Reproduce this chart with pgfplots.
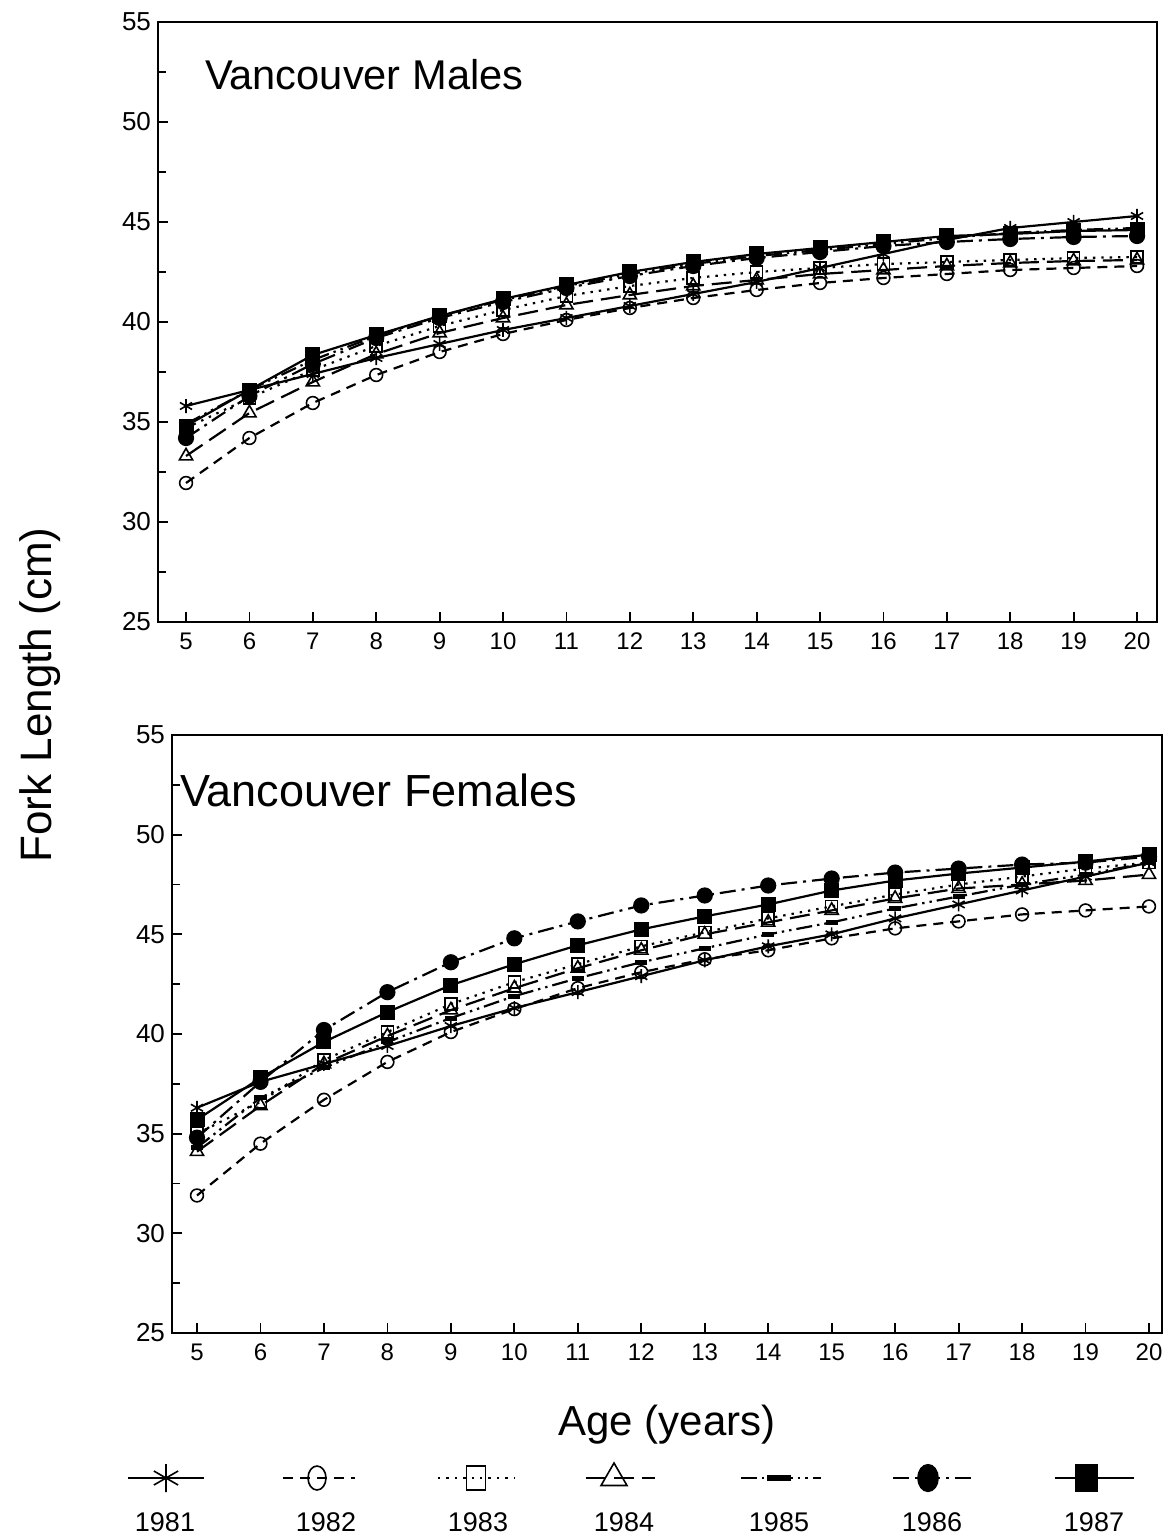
\documentclass[border=0pt]{standalone}
\usepackage{fontspec}
\setmainfont{Liberation Sans}
\usepackage{pgfplots}
\usepackage{pgfplotstable}
\pgfplotsset{compat=1.18}

\pgfplotstableread{
age a81 a82 a83 a84 a85 a86 a87
5  35.8 31.95 34.7 33.3 34.9 34.2 34.8
6  36.6 34.2 36.2 35.45 36.6 36.3 36.6
7  37.4 35.95 37.6 37.0 38.1 37.9 38.35
8  38.2 37.35 38.8 38.4 39.3 39.2 39.35
9  38.9 38.5 39.8 39.45 40.3 40.2 40.3
10 39.6 39.4 40.6 40.2 41.1 41.0 41.15
11 40.2 40.1 41.3 40.85 41.8 41.7 41.85
12 40.8 40.7 41.8 41.35 42.4 42.3 42.5
13 41.4 41.2 42.2 41.8 42.9 42.8 43.0
14 42.0 41.6 42.5 42.1 43.3 43.2 43.4
15 42.7 41.95 42.7 42.4 43.6 43.5 43.7
16 43.4 42.2 42.9 42.6 43.9 43.8 44.0
17 44.1 42.4 43.0 42.8 44.2 44.0 44.3
18 44.7 42.6 43.1 42.95 44.45 44.15 44.4
19 45.0 42.7 43.2 43.05 44.6 44.25 44.55
20 45.3 42.8 43.25 43.1 44.7 44.3 44.6
}\males

\pgfplotstableread{
age a81 a82 a83 a84 a85 a86 a87
5  36.3 31.9 35.0 34.1 34.3 34.8 35.7
6  37.6 34.5 36.6 36.4 36.8 37.6 37.8
7  38.5 36.7 38.7 38.5 38.3 40.2 39.6
8  39.4 38.6 40.1 39.9 39.6 42.1 41.1
9  40.4 40.1 41.5 41.2 40.8 43.6 42.45
10 41.3 41.25 42.6 42.3 41.9 44.8 43.5
11 42.1 42.3 43.5 43.3 42.8 45.65 44.45
12 42.9 43.1 44.4 44.2 43.6 46.45 45.25
13 43.7 43.75 45.1 45.0 44.3 46.95 45.9
14 44.4 44.2 45.8 45.6 45.0 47.45 46.5
15 45.0 44.8 46.4 46.2 45.6 47.8 47.2
16 45.8 45.3 47.0 46.8 46.3 48.1 47.7
17 46.5 45.65 47.5 47.3 46.9 48.3 48.05
18 47.2 46.0 47.9 47.5 47.5 48.5 48.35
19 47.9 46.2 48.3 47.7 48.0 48.6 48.65
20 48.6 46.4 48.6 48.0 48.6 48.9 49.0
}\females

\tikzset{legtext/.style={font=\fontsize{13.5}{15}\selectfont}}

\pgfplotsset{
  s81/.style={black, line width=1.1pt, solid, mark=asterisk, mark size=3.5pt, mark options={solid, line width=0.8pt}},
  s82/.style={black, line width=1.1pt, dash pattern=on 5pt off 3.5pt, mark=o, mark size=3.2pt, mark options={solid, line width=0.8pt, fill=white}},
  s83/.style={black, line width=1.1pt, dash pattern=on 1.2pt off 3pt, mark=square, mark size=3pt, mark options={solid, line width=0.8pt, fill=white}},
  s84/.style={black, line width=1.1pt, dash pattern=on 10pt off 4pt, mark=triangle, mark size=3.8pt, mark options={solid, line width=0.8pt, fill=white}},
  s85/.style={black, line width=1.1pt, dash pattern=on 8pt off 2.5pt on 1.2pt off 2.5pt on 1.2pt off 2.5pt, mark=-, mark size=3pt, mark options={solid, line width=2.5pt}},
  s86/.style={black, line width=1.1pt, dash pattern=on 8pt off 3pt on 1.5pt off 3pt, mark=*, mark size=3.5pt, mark options={solid}},
  s87/.style={black, line width=1.1pt, solid, mark=square*, mark size=3.2pt, mark options={solid}},
  panel/.style={
    scale only axis, anchor=south west,
    ymin=25, ymax=55, ytick={25,30,...,55}, minor y tick num=1,
    xtick={5,6,...,20},
    tick align=inside, xtick pos=bottom, ytick pos=left,
    major tick length=5pt, minor tick length=4pt,
    axis line style={line width=1.2pt},
    tick style={line width=0.9pt, black},
    yticklabel style={font=\fontsize{13}{15}\selectfont},
    xticklabel style={font=\fontsize{12}{14}\selectfont, yshift=-2pt},
    /pgf/number format/assume math mode=true,
    clip=false,
  },
}

\begin{document}
\begin{tikzpicture}
\useasboundingbox (0,0) rectangle (587.5pt,-770pt);

% Top panel: Males
\begin{axis}[panel, at={(79pt,-311pt)}, width=499.5pt, height=300pt,
  xmin=4.558, xmax=20.315]
\addplot[s81] table[x=age,y=a81] {\males};
\addplot[s82] table[x=age,y=a82] {\males};
\addplot[s83] table[x=age,y=a83] {\males};
\addplot[s84] table[x=age,y=a84] {\males};
\addplot[s85] table[x=age,y=a85] {\males};
\addplot[s86] table[x=age,y=a86] {\males};
\addplot[s87] table[x=age,y=a87] {\males};
\end{axis}

% Bottom panel: Females
\begin{axis}[panel, at={(86pt,-666.5pt)}, width=495pt, height=299pt,
  xmin=4.606, xmax=20.205]
\addplot[s81] table[x=age,y=a81] {\females};
\addplot[s82] table[x=age,y=a82] {\females};
\addplot[s83] table[x=age,y=a83] {\females};
\addplot[s84] table[x=age,y=a84] {\females};
\addplot[s85] table[x=age,y=a85] {\females};
\addplot[s86] table[x=age,y=a86] {\females};
\addplot[s87] table[x=age,y=a87] {\females};
\end{axis}

% Overlay axis in pixel units for texts and legend
\begin{axis}[at={(0,-770pt)}, anchor=south west, width=587.5pt, height=770pt,
  scale only axis, xmin=0, xmax=1175, ymin=-1540, ymax=0, hide axis, clip=false]
\node[anchor=west, font=\fontsize{20.8}{23}\selectfont] at (axis cs:198,-75) {Vancouver Males};
\node[anchor=west, font=\fontsize{22.5}{25}\selectfont] at (axis cs:173,-790) {Vancouver Females};
\node[rotate=90, font=\fontsize{22}{25}\selectfont] at (axis cs:40,-695) {Fork Length (cm)};
\node[font=\fontsize{21}{24}\selectfont] at (axis cs:667,-1425) {Age (years)};

\addplot[s81, mark indices={2}, mark size=7pt] coordinates {(128,-1478) (166,-1478) (204,-1478)};
\addplot[s82, mark indices={2}, mark size=6pt, mark options={solid, line width=0.8pt, fill=white, xscale=0.75}] coordinates {(283,-1478) (317,-1478) (355,-1478)};
\addplot[s83, mark indices={2}, mark size=6pt, mark options={solid, line width=0.8pt, fill=white, xscale=0.8}] coordinates {(438,-1478) (476,-1478) (514,-1478)};
\addplot[s84, mark indices={2}, mark size=7.5pt] coordinates {(586,-1478) (614,-1478) (655,-1478)};
\addplot[s85, mark indices={2}, mark size=6pt, mark options={solid, line width=3pt}] coordinates {(741,-1478) (779,-1478) (821,-1478)};
\addplot[s86, mark indices={2}, mark size=6.5pt, mark options={solid, xscale=0.75}] coordinates {(893,-1478) (928,-1478) (972,-1478)};
\addplot[s87, mark indices={2}, mark size=6.5pt, mark options={solid, xscale=0.8}] coordinates {(1055,-1478) (1086,-1478) (1134,-1478)};

\node[legtext] at (axis cs:165,-1522) {1981};
\node[legtext] at (axis cs:326,-1522) {1982};
\node[legtext] at (axis cs:478,-1522) {1983};
\node[legtext] at (axis cs:624,-1522) {1984};
\node[legtext] at (axis cs:779,-1522) {1985};
\node[legtext] at (axis cs:932,-1522) {1986};
\node[legtext] at (axis cs:1094,-1522) {1987};
\end{axis}
\end{tikzpicture}
\end{document}
